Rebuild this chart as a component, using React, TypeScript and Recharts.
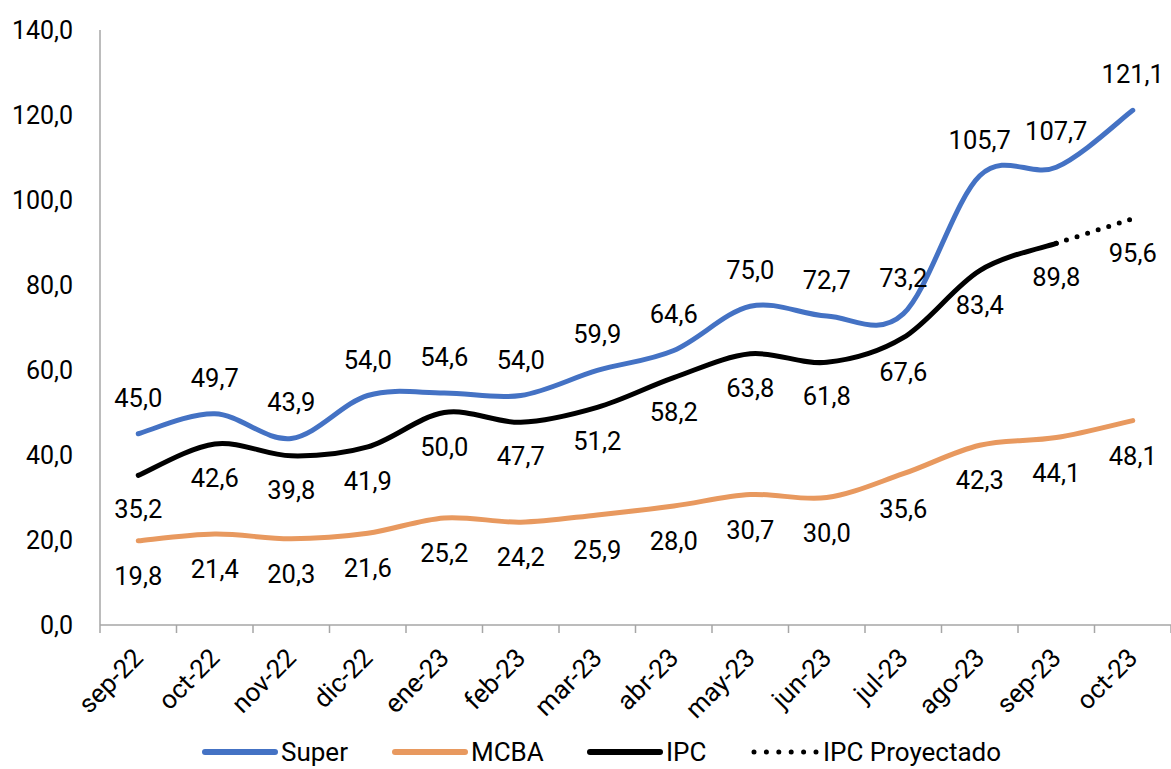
import React from "react"
import { LineChart, Line, XAxis, YAxis, Legend, LabelList } from "recharts"

const months = ["sep-22", "oct-22", "nov-22", "dic-22", "ene-23", "feb-23", "mar-23", "abr-23", "may-23", "jun-23", "jul-23", "ago-23", "sep-23", "oct-23"]
const superValues = [45.0, 49.7, 43.9, 54.0, 54.6, 54.0, 59.9, 64.6, 75.0, 72.7, 73.2, 105.7, 107.7, 121.1]
const mcbaValues = [19.8, 21.4, 20.3, 21.6, 25.2, 24.2, 25.9, 28.0, 30.7, 30.0, 35.6, 42.3, 44.1, 48.1]
const ipcValues: (number | null)[] = [35.2, 42.6, 39.8, 41.9, 50.0, 47.7, 51.2, 58.2, 63.8, 61.8, 67.6, 83.4, 89.8, null]
const ipcProjected: (number | null)[] = [null, null, null, null, null, null, null, null, null, null, null, null, 89.8, 95.6]
const yTicks = [0, 20, 40, 60, 80, 100, 120, 140]

const rows = months.map((m, i) => ({
  month: m,
  Super: superValues[i],
  MCBA: mcbaValues[i],
  IPC: ipcValues[i],
  IPCProy: ipcProjected[i],
}))

const W = 1171
const H = 769
const Y_AXIS_W = 100
const BAND = (W - Y_AXIS_W) / months.length
const FONT = "Roboto, 'Noto Sans', sans-serif"
const BLUE = "#4472C4"
const ORANGE = "#E8995F"
const AXIS = "#A6A6A6"

const fmt = (v: number) => v.toFixed(1).replace(".", ",")

// Excel-like smoothing (Catmull-Rom through the points)
const excelCurve = (context: any) => {
  let pts: number[][] = []
  return {
    areaStart() {},
    areaEnd() {},
    lineStart() {
      pts = []
    },
    point(x: number, y: number) {
      pts.push([+x, +y])
    },
    lineEnd() {
      if (!pts.length) return
      context.moveTo(pts[0][0], pts[0][1])
      for (let i = 0; i < pts.length - 1; i++) {
        const p0 = pts[i - 1] || pts[i]
        const p1 = pts[i]
        const p2 = pts[i + 1]
        const p3 = pts[i + 2] || p2
        context.bezierCurveTo(
          p1[0] + (p2[0] - p0[0]) / 6,
          p1[1] + (p2[1] - p0[1]) / 6,
          p2[0] - (p3[0] - p1[0]) / 6,
          p2[1] - (p3[1] - p1[1]) / 6,
          p2[0],
          p2[1]
        )
      }
    },
  }
}

const makeLabel = (dy: number, skip?: (i: number) => boolean) => (props: any) => {
  const { value, index } = props
  if (value == null) return null
  if (skip && skip(index)) return null
  const vb = props.viewBox || {}
  const x = vb.x ?? props.x
  const y = vb.y ?? props.y
  return (
    <text x={x} y={y + dy} textAnchor="middle" dominantBaseline="central" fontSize={25.5} fill="#000" fontFamily={FONT}>
      {fmt(Number(value))}
    </text>
  )
}

const XTick = (props: any) => {
  const { x, y, payload, index } = props
  const half = BAND / 2
  return (
    <g>
      <line x1={x - half} y1={y} x2={x - half} y2={y + 8} stroke={AXIS} strokeWidth={1.5} />
      {index === months.length - 1 && <line x1={x + half} y1={y} x2={x + half} y2={y + 8} stroke={AXIS} strokeWidth={1.5} />}
      <text
        transform={`translate(${x},${y + 28}) rotate(-45)`}
        textAnchor="end"
        dominantBaseline="central"
        fontSize={26}
        fill="#000"
        fontFamily={FONT}
      >
        {payload.value}
      </text>
    </g>
  )
}

const legendItems = [
  { name: "Super", color: BLUE, x: 205, dotted: false },
  { name: "MCBA", color: ORANGE, x: 395, dotted: false },
  { name: "IPC", color: "#000", x: 590, dotted: false },
  { name: "IPC Proyectado", color: "#000", x: 754, dotted: true },
]

const renderLegend = () => (
  <svg width={W} height={34} style={{ display: "block" }}>
    {legendItems.map((it) => (
      <g key={it.name}>
        {it.dotted ? (
          <line x1={it.x} y1={17} x2={it.x + 62} y2={17} stroke={it.color} strokeWidth={5} strokeLinecap="round" strokeDasharray="0 12.4" />
        ) : (
          <line x1={it.x} y1={17} x2={it.x + 70} y2={17} stroke={it.color} strokeWidth={6} strokeLinecap="round" />
        )}
        <text
          x={it.x + (it.dotted ? 69 : 76)}
          y={17}
          dominantBaseline="central"
          fontSize={26}
          fill="#000"
          fontFamily={FONT}
        >
          {it.name}
        </text>
      </g>
    ))}
  </svg>
)

export default function App() {
  return (
    <div style={{ position: "absolute", left: 0, top: 0, width: W, height: H, background: "#fff", fontFamily: FONT }}>
      <LineChart width={W} height={H} data={rows} margin={{ top: 30, right: 0, left: 0, bottom: 0 }}>
        <XAxis
          dataKey="month"
          scale="band"
          height={110}
          tickLine={false}
          tickSize={0}
          tickMargin={0}
          interval={0}
          axisLine={{ stroke: AXIS, strokeWidth: 1.5 }}
          tick={<XTick />}
        />
        <YAxis
          width={Y_AXIS_W}
          domain={[0, 140]}
          ticks={yTicks}
          interval={0}
          tickFormatter={fmt}
          tickLine={false}
          tickSize={0}
          tickMargin={27}
          axisLine={{ stroke: AXIS, strokeWidth: 1.5 }}
          tick={{ fill: "#000", fontSize: 25, fontFamily: FONT }}
        />
        <Legend verticalAlign="bottom" content={renderLegend} />
        <Line dataKey="MCBA" type={excelCurve as any} stroke={ORANGE} strokeWidth={5} strokeLinecap="round" dot={false} isAnimationActive={false}>
          <LabelList dataKey="MCBA" content={makeLabel(35)} />
        </Line>
        <Line dataKey="IPC" type={excelCurve as any} stroke="#000" strokeWidth={5} strokeLinecap="round" dot={false} isAnimationActive={false}>
          <LabelList dataKey="IPC" content={makeLabel(34)} />
        </Line>
        <Line
          dataKey="IPCProy"
          type={excelCurve as any}
          stroke="#000"
          strokeWidth={5}
          strokeLinecap="round"
          strokeDasharray="0 11"
          dot={false}
          isAnimationActive={false}
        >
          <LabelList dataKey="IPCProy" content={makeLabel(34, (i) => ipcValues[i] != null)} />
        </Line>
        <Line dataKey="Super" type={excelCurve as any} stroke={BLUE} strokeWidth={5} strokeLinecap="round" dot={false} isAnimationActive={false}>
          <LabelList dataKey="Super" content={makeLabel(-36)} />
        </Line>
      </LineChart>
    </div>
  )
}
